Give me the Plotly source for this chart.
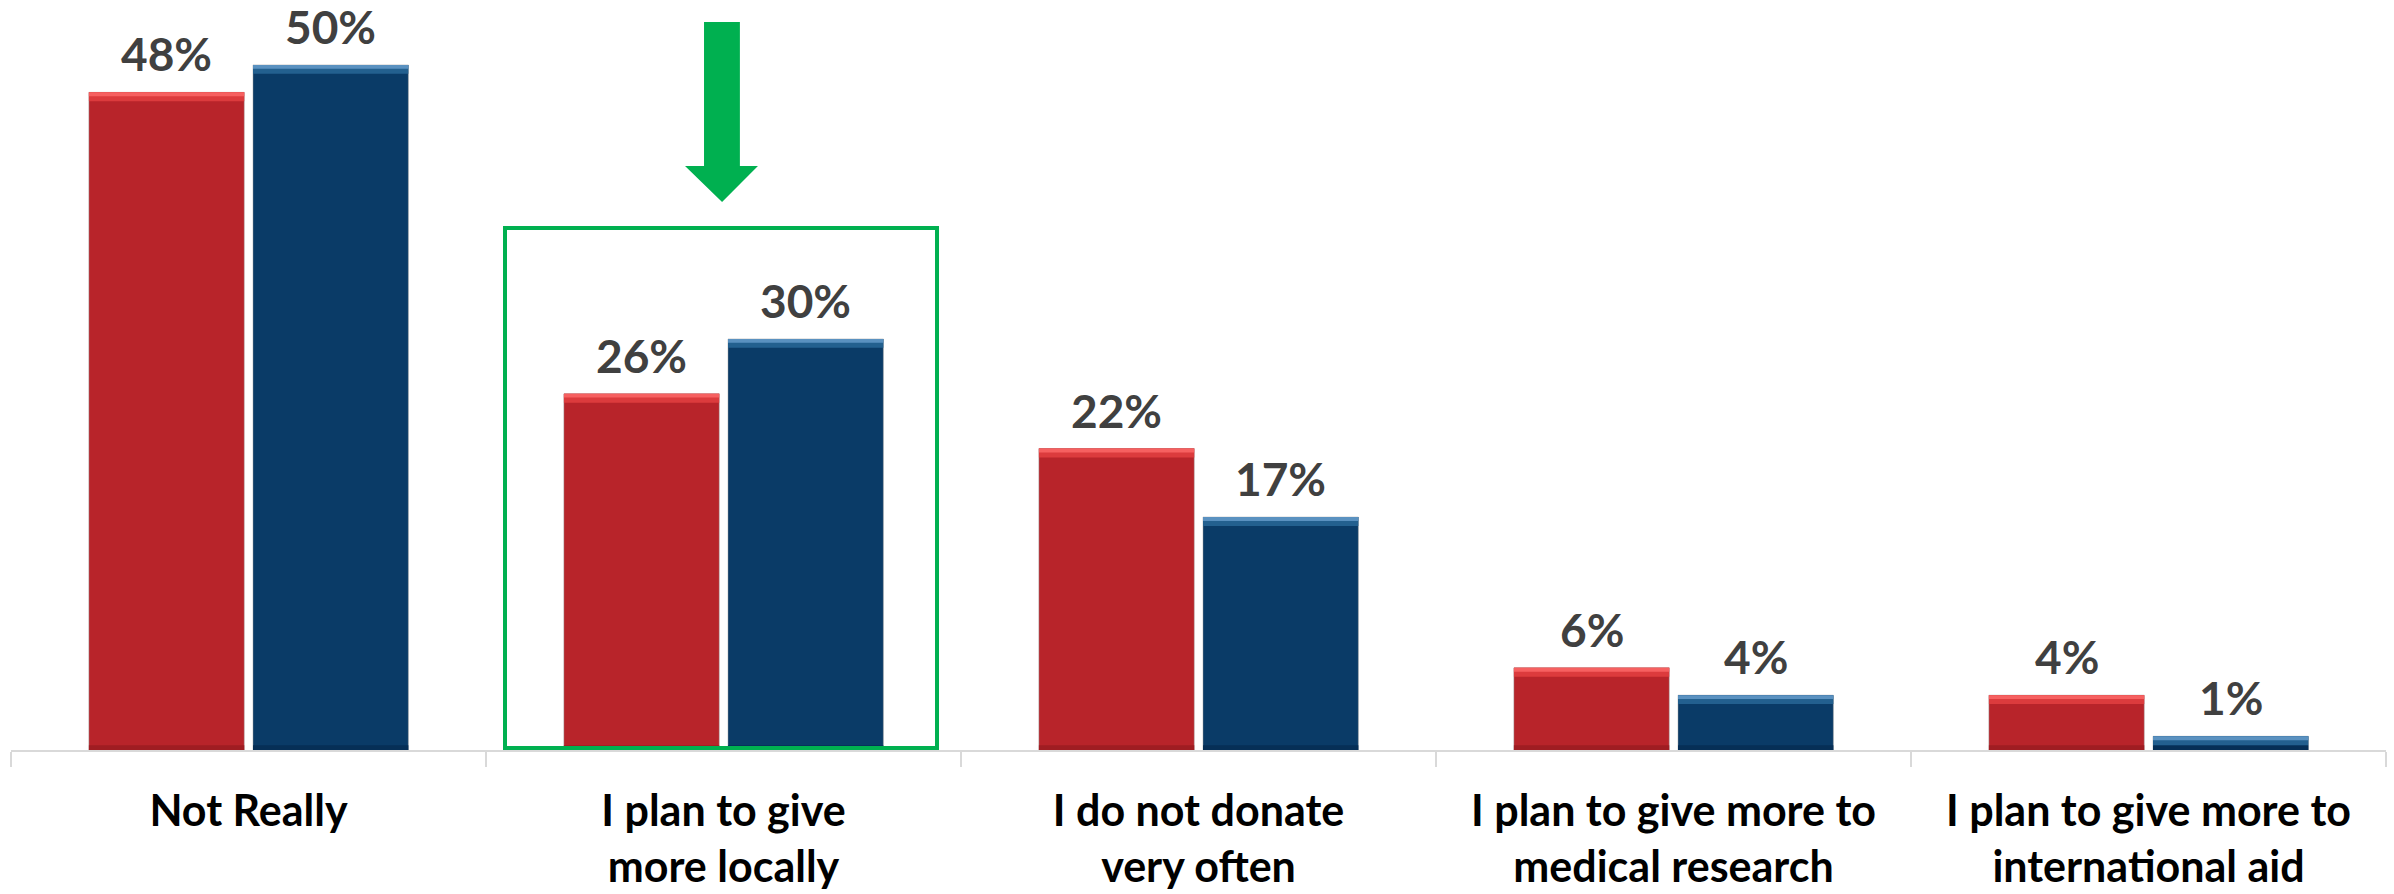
import plotly.graph_objects as go

# Survey answers and the share of respondents for each of the two waves
categories = [
    "Not Really",
    "I plan to give<br>more locally",
    "I do not donate<br>very often",
    "I plan to give more to<br>medical research",
    "I plan to give more to<br>international aid",
]
wave_red = [48, 26, 22, 6, 4]
wave_blue = [50, 30, 17, 4, 1]

RED = "#b8242a"
RED_TOP = "#f66060"
RED_TOP2 = "#dc3b3d"
RED_BOTTOM = "#9f1d22"
BLUE = "#0a3b67"
BLUE_TOP = "#5a91c0"
BLUE_TOP2 = "#23608f"
BLUE_BOTTOM = "#062f56"

FONT = "Lato"
BAR_W = 0.327
OFF_RED = -0.336
OFF_BLUE = 0.0095

W, H = 2394, 894
M_L, M_R, M_T, M_B = 11, 8, 0, 144
PX_PER_CAT = (W - M_L - M_R) / len(categories)

fig = go.Figure()
annotations = []


def add_series(values, offset, body, top, top2, bottom):
    n = len(values)
    fig.add_trace(go.Bar(
        x=categories, y=values, width=BAR_W, offset=offset,
        marker=dict(color=body, line=dict(color="rgba(150,150,150,0.45)", width=1)),
        showlegend=False, hoverinfo="skip",
    ))
    # bevel: darker bottom edge and lighter top edge of each bar
    fig.add_trace(go.Bar(
        x=categories, y=[0.35] * n, base=[0] * n,
        width=BAR_W, offset=offset, marker=dict(color=bottom, line=dict(width=0)),
        showlegend=False, hoverinfo="skip",
    ))
    fig.add_trace(go.Bar(
        x=categories, y=[0.65] * n, base=[v - 0.65 for v in values],
        width=BAR_W, offset=offset, marker=dict(color=top2, line=dict(width=0)),
        showlegend=False, hoverinfo="skip",
    ))
    fig.add_trace(go.Bar(
        x=categories, y=[0.28] * n, base=[v - 0.28 for v in values],
        width=BAR_W, offset=offset, marker=dict(color=top, line=dict(width=0)),
        showlegend=False, hoverinfo="skip",
    ))
    # value labels centred over each bar
    shift = (offset + BAR_W / 2) * PX_PER_CAT
    for cat, v in zip(categories, values):
        annotations.append(dict(
            x=cat, y=v, xref="x", yref="y", xshift=shift, yshift=10,
            text=f"{v}%", showarrow=False, xanchor="center", yanchor="bottom",
            borderpad=0,
            font=dict(family=FONT, size=46, color="#404040", weight="bold"),
        ))


add_series(wave_red, OFF_RED, RED, RED_TOP, RED_TOP2, RED_BOTTOM)
add_series(wave_blue, OFF_BLUE, BLUE, BLUE_TOP, BLUE_TOP2, BLUE_BOTTOM)

GREEN = "#00b050"

fig.update_layout(
    width=W, height=H,
    margin=dict(l=M_L, r=M_R, t=M_T, b=M_B),
    paper_bgcolor="white", plot_bgcolor="white",
    barmode="overlay",
    xaxis=dict(
        type="category",
        showline=True, linecolor="#d9d9d9", linewidth=2,
        ticks="outside", tickson="boundaries", ticklen=15,
        tickcolor="#d9d9d9", tickwidth=2,
        tickfont=dict(family=FONT, size=43, color="black", weight="bold"),
        ticklabelstandoff=22,
        showgrid=False, zeroline=False,
    ),
    yaxis=dict(
        range=[0, 54.74], visible=False, showgrid=False, zeroline=False,
    ),
    annotations=annotations,
    shapes=[
        # highlight frame around the "give more locally" group
        dict(type="rect", xref="paper", yref="paper",
             x0=0.208, x1=0.3899, y0=0.0027, y1=0.696,
             line=dict(color=GREEN, width=4), fillcolor="rgba(0,0,0,0)",
             layer="above"),
        # arrow pointing down at the highlighted group
        dict(type="path", xref="paper", yref="paper",
             path=("M 0.2918 0.9707 L 0.3069 0.9707 L 0.3069 0.7787 "
                   "L 0.3145 0.7787 L 0.2994 0.7307 L 0.2838 0.7787 "
                   "L 0.2918 0.7787 Z"),
             fillcolor=GREEN, line=dict(width=0)),
    ],
)

fig.write_html("out.html")
